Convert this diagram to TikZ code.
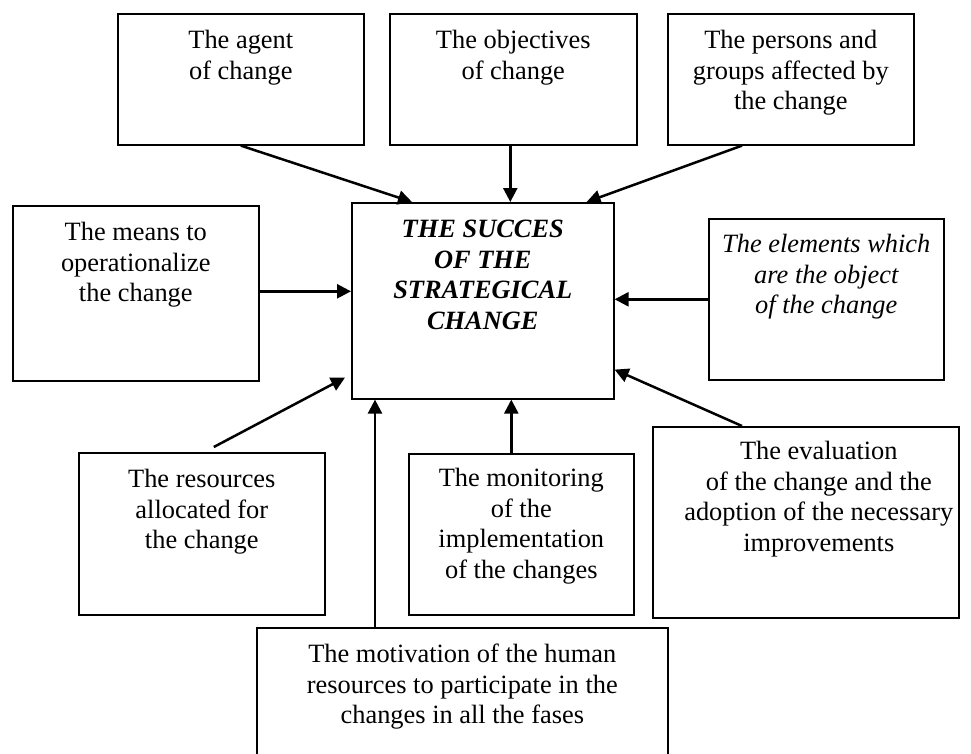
\documentclass[tikz,border=0pt]{standalone}
\usepackage{fontspec}
\setmainfont{Liberation Serif}
\usetikzlibrary{arrows.meta,calc}
\newcommand\bxt[4]{\parbox[c][#2][t]{#1}{\centering\rule{0pt}{#3}#4\par}}
\begin{document}
\begin{tikzpicture}[x=1pt,y=-1pt,
  box/.style={draw, line width=1.6pt, inner sep=0pt, anchor=north west,
    font=\fontsize{26.4}{30.5}\selectfont},
  arr/.style={line width=2.5pt, -{Triangle[length=14pt,width=14pt]}}]
\useasboundingbox (0,0) rectangle (971,753);

\node[box] (agent) at (117,13) {\bxt{246pt}{131pt}{35pt}{The agent\\of change}};
\node[box] (obj) at (389,13) {\bxt{247pt}{131pt}{35pt}{The objectives\\of change}};
\node[box] (pers) at (667,13) {\bxt{246pt}{131pt}{35pt}{The persons and\\groups affected by\\the change}};
\node[box] (means) at (12,205) {\bxt{246pt}{175pt}{35pt}{The means to\\operationalize\\the change}};
\node[box] (center) at (351,202) {\bxt{262pt}{196pt}{35pt}{\bfseries\itshape THE SUCCES\\OF THE\\STRATEGICAL\\CHANGE}};
\node[box] (elem) at (708,218) {\bxt{235pt}{161pt}{34pt}{\itshape The elements which\\are the object\\of the change}};
\node[box] (res) at (78,452) {\bxt{246pt}{162pt}{35pt}{The resources\\allocated for\\the change}};
\node[box] (mon) at (408,453) {\bxt{225pt}{161pt}{33pt}{The monitoring\\of the\\implementation\\of the changes}};
\node[box] (eval) at (652,426) {\bxt{306pt}{191pt}{33pt}{\leftskip=26pt plus 1fil The evaluation\\of the change and the\\adoption of the necessary\\improvements}};
\node[box] (mot) at (256,627) {\bxt{411pt}{140pt}{35pt}{The motivation of the human\\resources to participate in the\\changes in all the fases}};

\draw[arr] (agent.south) -- ($(center.north west)+(61,0)$);
\draw[arr] ($(obj.south)+(-3,0)$) coordinate (o1) -- (o1 |- center.north);
\draw[arr] ($(pers.south west)+(75,0)$) -- ($(center.north east)+(-28,0)$);
\draw[arr] ($(means.east)+(0,-2)$) coordinate (a1) -- (a1 -| center.west);
\draw[arr] (elem.west) -- (elem.west -| center.east);
\draw[arr] ($(res.north)+(12,-5)$) -- ($(center.south west)+(-6,-22)$);
\draw[arr] ($(mot.north west)+(119,0)$) coordinate (m1) -- (m1 |- center.south);
\draw[arr] ($(mon.north)+(-10,0)$) coordinate (m2) -- (m2 |- center.south);
\draw[arr] ($(eval.north west)+(90,0)$) -- ($(center.south east)+(0,-30)$);
\end{tikzpicture}
\end{document}
